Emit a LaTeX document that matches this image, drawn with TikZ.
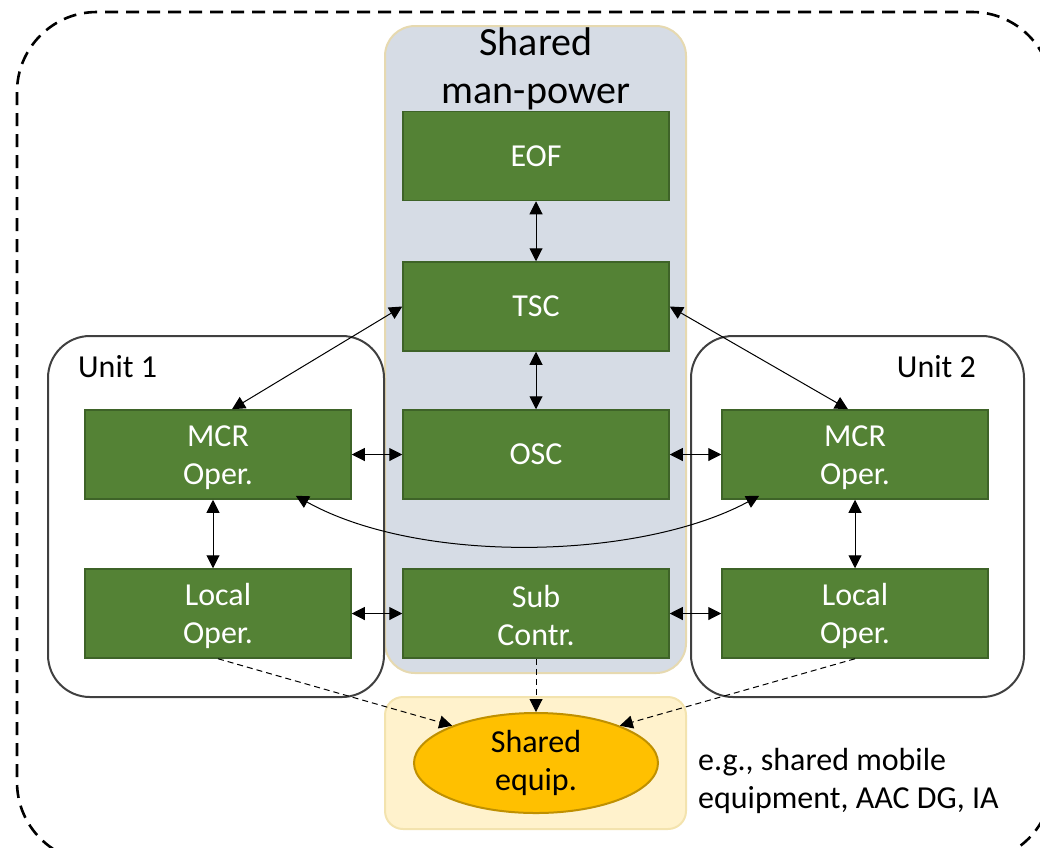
\documentclass[tikz,border=0pt]{standalone}
\usepackage{fontspec}
\setmainfont{Carlito}
\usetikzlibrary{arrows.meta,shapes.geometric,calc}
\definecolor{boxgreen}{HTML}{548235}
\definecolor{boxgreenline}{HTML}{3E6328}
\definecolor{poolfill}{HTML}{D6DCE5}
\definecolor{poolline}{HTML}{E6D9B0}
\definecolor{equipfill}{HTML}{FFF2CC}
\definecolor{equipline}{HTML}{F3E3AE}
\definecolor{ellfill}{HTML}{FFC000}
\definecolor{ellline}{HTML}{BF9000}
\definecolor{unitline}{HTML}{404040}
\tikzset{
  func/.style={draw=boxgreenline, line width=1.5pt, fill=boxgreen, text=white,
    minimum width=266pt, minimum height=89pt, inner sep=0pt, align=center,
    font=\fontsize{32}{38}\selectfont},
  unitbox/.style={draw=unitline, line width=2pt, rounded corners=42pt},
  link/.style={line width=1pt, {Triangle[length=13pt,width=13pt]}-{Triangle[length=13pt,width=13pt]}},
  feed/.style={line width=1pt, dash pattern=on 6pt off 4pt, -{Triangle[length=13pt,width=13pt]}},
  lbl/.style={font=\fontsize{32}{38}\selectfont, inner sep=0pt}
}
\begin{document}
\begin{tikzpicture}[x=1pt,y=-1pt]
\useasboundingbox (0,0) rectangle (1040,847);
% outer dashed boundary
\draw[line width=2.6pt, dash pattern=on 13pt off 8pt, rounded corners=80pt]
  (17,12) rectangle (1052,862);
% shared man-power pool
\draw[fill=poolfill, draw=poolline, line width=2pt, rounded corners=30pt]
  (385,26) rectangle (686,673);
\node[font=\fontsize{40}{48}\selectfont, align=center, inner sep=0pt] (pooltitle) at (536,69)
  {Shared\\man-power};
% shared equipment area
\draw[fill=equipfill, draw=equipline, line width=2pt, rounded corners=18pt]
  (385,697) rectangle (686,829);
% unit frames
\draw[unitbox] (48,336) rectangle (384,697);
\draw[unitbox] (691,336) rectangle (1024,697);
\node[lbl, anchor=west] (u1) at (78,367) {Unit 1};
\node[lbl, anchor=east] (u2) at (976,367) {Unit 2};
% functional boxes
\node[func] (eof) at (536,156) {EOF};
\node[func] (tsc) at (536,306.5) {TSC};
\node[func] (osc) at (536,454.5) {OSC};
\node[func] (sub) at (536,613.5) {\strut Sub\\Contr.};
\node[func] (mcrL) at (218,454.5) {\strut MCR\\Oper.};
\node[func] (locL) at (218,613.5) {\strut Local\\Oper.};
\node[func] (mcrR) at (855,454.5) {\strut MCR\\Oper.};
\node[func] (locR) at (855,613.5) {\strut Local\\Oper.};
% shared equipment
\node[ellipse, draw=ellline, line width=2pt, fill=ellfill, minimum width=244pt,
  minimum height=100pt, inner sep=0pt, align=center,
  font=\fontsize{32}{38}\selectfont] (eq) at (536,763) {Shared\\equip.};
\node[font=\fontsize{32}{38}\selectfont, align=left, anchor=west, inner sep=0pt] (note) at (698,781)
  {e.g., shared mobile\\equipment, AAC DG, IA};
% links
\draw[link] (eof) -- (tsc);
\draw[link] (tsc) -- (osc);
\draw[link] (mcrL) -- (osc);
\draw[link] (osc) -- (mcrR);
\draw[link] (locL) -- (sub);
\draw[link] (sub) -- (locR);
\draw[link] ([xshift=-5pt]mcrL.south) -- ([xshift=-5pt]locL.north);
\draw[link] (mcrR) -- (locR);
\draw[link] (tsc.west) -- ([xshift=14pt]mcrL.north);
\draw[link] (tsc.east) -- ([xshift=-7pt]mcrR.north);
\draw[link] ([xshift=-56pt,yshift=4pt]mcrL.south east)
  .. controls (420,565) and (640,560) .. ([xshift=38pt,yshift=4pt]mcrR.south west);
% equipment use
\draw[feed] (locL.south) -- (eq.156);
\draw[feed] (sub.south) -- (eq.north);
\draw[feed] (locR.south) -- (eq.24);
\end{tikzpicture}
\end{document}
